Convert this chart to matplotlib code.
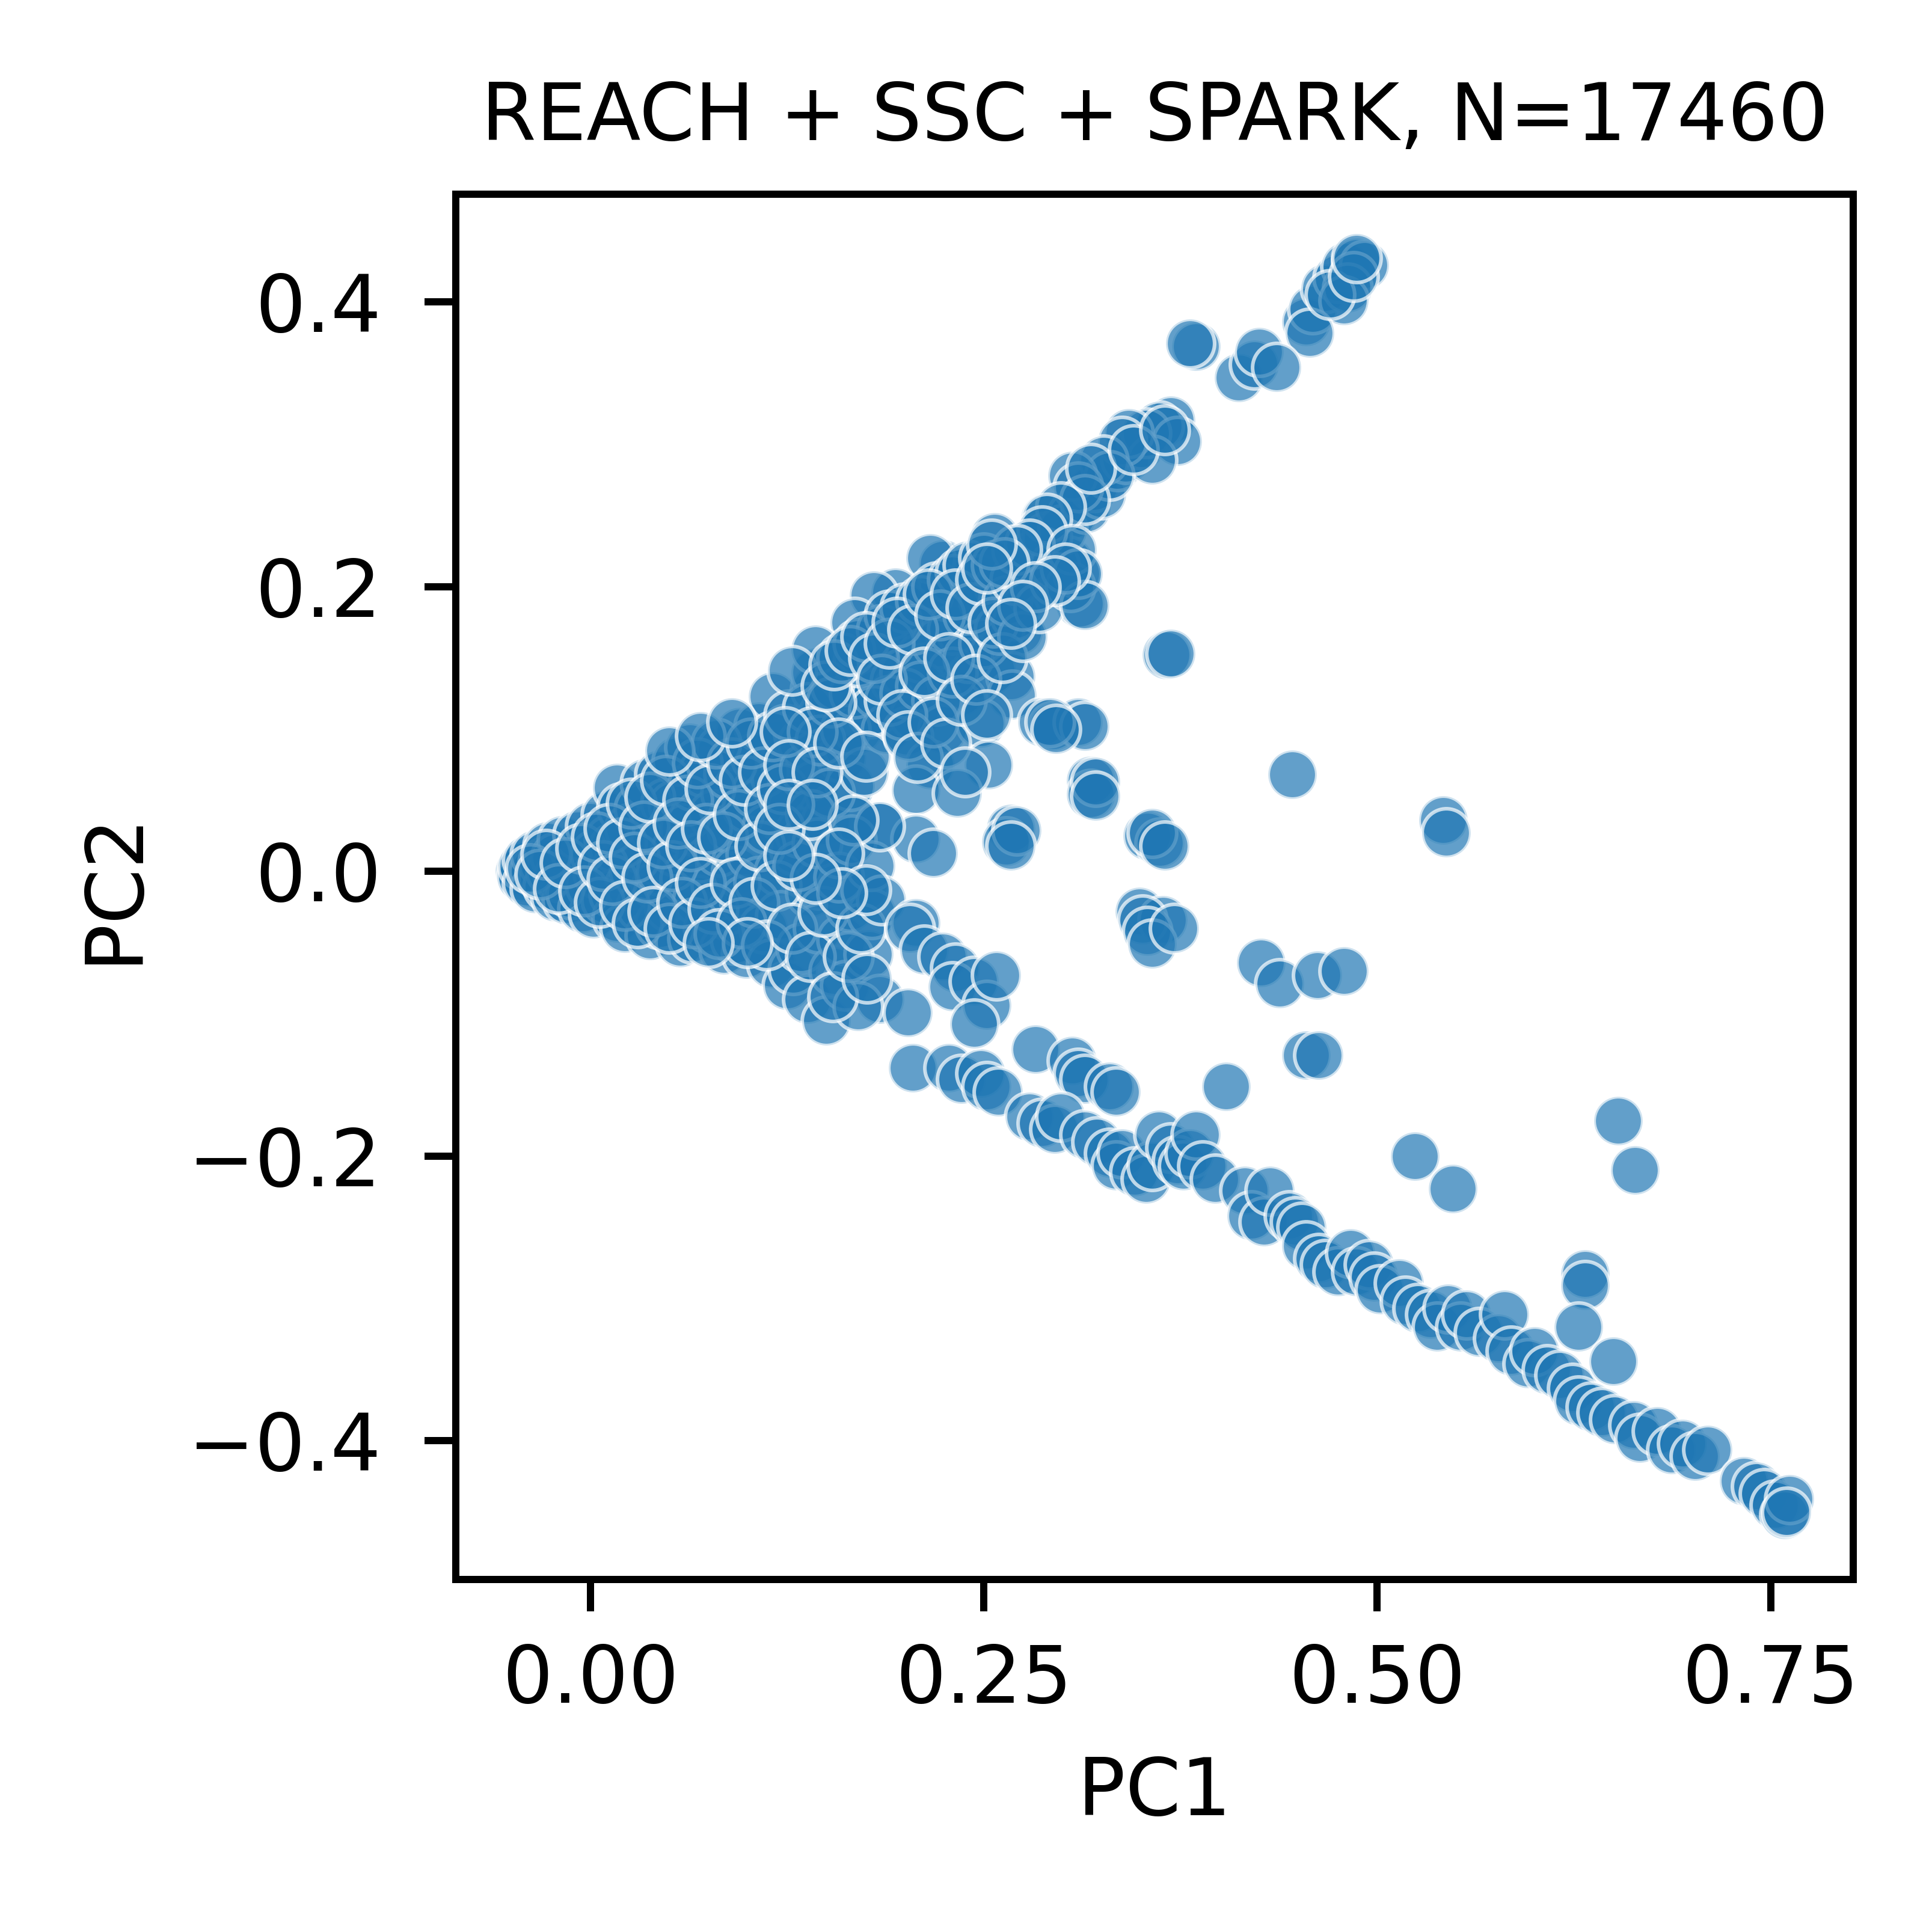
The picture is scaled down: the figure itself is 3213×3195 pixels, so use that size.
import numpy as np
import matplotlib
matplotlib.use("Agg")
import matplotlib.pyplot as plt

# --- points (PC1, PC2) ---
# pointe gauche / coeur du nuage
core_pc1 = [-0.045, -0.044, -0.043, -0.040, -0.040, -0.036, -0.035, -0.035, -0.030, -0.030,
            -0.027, -0.027, -0.025, -0.022, -0.022, -0.020, -0.018, -0.015, -0.012, -0.012,
            -0.010, -0.008, -0.005, 0.000, 0.000, 0.002, 0.003, 0.005, 0.010, 0.010,
            0.012, 0.015, 0.015, 0.017, 0.017, 0.018, 0.020, 0.022, 0.025, 0.025,
            0.028, 0.031, 0.032, 0.035, 0.035, 0.038, 0.040, 0.042, 0.044, 0.044,
            0.045, 0.048, 0.050, 0.053, 0.054, 0.055, 0.057, 0.060, 0.060, 0.063,
            0.065, 0.065, 0.068, 0.070, 0.072, 0.075, 0.078, 0.080, 0.082, 0.083,
            0.085, 0.086, 0.088, 0.088, 0.090, 0.092, 0.093, 0.095, 0.098, 0.099,
            0.100, 0.102, 0.105, 0.105, 0.107, 0.107, 0.110, 0.112, 0.115, 0.116,
            0.118, 0.120, 0.121, 0.124, 0.124, 0.125, 0.128, 0.129, 0.130, 0.133,
            0.134, 0.135, 0.138, 0.140, 0.142, 0.143, 0.143, 0.145, 0.145, 0.148,
            0.150, 0.150, 0.155, 0.155, 0.158, 0.160, 0.160, 0.162, 0.165, 0.167,
            0.170, 0.174, 0.177, 0.179, 0.179, 0.180, 0.184, 0.184, 0.170, 0.165,
            -0.038, -0.032, -0.028, -0.020, -0.016, -0.006, -0.004, 0.004, 0.006, 0.008,
            0.012, 0.014, 0.020, 0.022, 0.026, 0.028, 0.030, 0.034, 0.036, 0.038,
            0.040, 0.046, 0.048, 0.050, 0.052, 0.056, 0.058, 0.062, 0.064, 0.066,
            0.068, 0.070, 0.074, 0.076, 0.078, 0.080, 0.082, 0.084, 0.090, 0.092,
            0.094, 0.096, 0.098, 0.102, 0.104, 0.108, 0.110, 0.112, 0.114, 0.116,
            0.118, 0.122, 0.126, 0.128, 0.132, 0.136, 0.138, 0.140, 0.144, 0.146,
            0.148, 0.152, 0.154, 0.156, 0.158, 0.162, 0.164, 0.166, 0.168, 0.172,
            0.174, 0.176, 0.178, 0.182, 0.185, 0.188, 0.140, 0.120, 0.100, 0.075,
            0.050, 0.070, 0.090]
core_pc2 = [0.000, -0.004, 0.004, -0.008, 0.008, 0.000, -0.012, 0.012, -0.005, 0.006,
            -0.011, 0.018, 0.000, -0.018, 0.010, -0.004, 0.022, -0.020, 0.010, -0.016,
            0.000, 0.026, -0.026, 0.032, -0.010, -0.030, 0.012, -0.002, 0.040, -0.020,
            0.022, 0.017, -0.016, 0.059, -0.033, 0.005, 0.045, -0.040, 0.030, -0.010,
            0.000, 0.044, -0.025, 0.062, 0.015, -0.045, 0.030, -0.010, 0.068, -0.037,
            0.000, 0.048, -0.025, 0.046, 0.014, 0.078, -0.050, -0.005, 0.030, 0.087,
            -0.047, 0.060, -0.020, 0.010, 0.070, -0.040, 0.040, -0.010, 0.014, 0.085,
            -0.055, 0.055, 0.068, -0.031, 0.030, -0.048, 0.000, 0.098, -0.020, -0.058,
            0.045, 0.012, 0.055, 0.080, 0.102, -0.007, -0.040, 0.030, -0.065, 0.123,
            0.065, 0.000, -0.031, 0.078, 0.100, -0.080, 0.045, -0.069, 0.015, 0.027,
            -0.054, 0.090, -0.090, -0.015, 0.060, 0.128, 0.140, -0.009, -0.040, 0.110,
            -0.105, 0.035, 0.119, -0.070, 0.014, -0.048, 0.080, -0.080, -0.025, 0.038,
            0.100, -0.011, -0.058, -0.030, 0.111, 0.138, 0.032, -0.090, -0.095, 0.060,
            0.002, -0.002, 0.012, -0.012, 0.006, 0.016, -0.014, 0.024, -0.022, 0.004,
            0.030, -0.006, 0.020, -0.024, 0.048, 0.010, -0.036, 0.032, -0.004, 0.052,
            -0.028, 0.020, 0.064, -0.040, 0.004, 0.034, -0.022, 0.050, 0.018, -0.036,
            0.076, -0.008, 0.030, 0.058, -0.026, 0.090, -0.044, 0.024, 0.076, -0.008,
            0.040, -0.036, 0.064, 0.090, -0.022, 0.018, 0.070, -0.052, 0.044, 0.095,
            -0.010, 0.058, 0.110, -0.040, 0.004, 0.072, 0.115, -0.060, 0.020, 0.092,
            -0.028, 0.055, -0.088, 0.130, -0.004, 0.100, -0.060, 0.022, 0.125, -0.040,
            0.070, -0.075, 0.004, 0.125, -0.020, 0.100, 0.040, 0.030, -0.050, -0.050,
            0.085, 0.095, 0.105]

# bras superieur
upper_pc1 = [0.289, 0.306, 0.272, 0.257, 0.304, 0.311, 0.309, 0.281, 0.272, 0.248,
             0.224, 0.224, 0.216, 0.241, 0.223, 0.199, 0.194, 0.180, 0.168, 0.143,
             0.128, 0.170, 0.194, 0.213, 0.235, 0.255, 0.267, 0.268, 0.180, 0.206,
             0.153, 0.141, 0.124, 0.126, 0.144, 0.158, 0.175, 0.201, 0.224, 0.248,
             0.253, 0.216, 0.207, 0.233, 0.287, 0.294, 0.310, 0.318, 0.318, 0.366,
             0.267, 0.264, 0.354, 0.362, 0.207, 0.218, 0.184, 0.167, 0.158, 0.175,
             0.160, 0.143, 0.126, 0.126, 0.141, 0.349, 0.364, 0.207,
             0.150, 0.160, 0.170, 0.185, 0.190, 0.200, 0.210, 0.220, 0.230, 0.235,
             0.240, 0.250, 0.200, 0.210, 0.220, 0.230, 0.240, 0.250, 0.260, 0.190,
             0.200, 0.210, 0.220, 0.230, 0.240, 0.250, 0.260, 0.270, 0.280, 0.290,
             0.155, 0.165, 0.175, 0.180, 0.185, 0.190, 0.195, 0.198, 0.202, 0.205,
             0.208, 0.212, 0.215, 0.218, 0.222, 0.226, 0.228, 0.232, 0.236, 0.238,
             0.242, 0.245, 0.248, 0.252, 0.256, 0.258, 0.262, 0.265, 0.270, 0.275,
             0.278, 0.285, 0.290, 0.295, 0.300, 0.305, 0.315, 0.320, 0.325, 0.335,
             0.340, 0.350]
upper_pc2 = [0.248, 0.250, 0.224, 0.235, 0.218, 0.188, 0.209, 0.198, 0.169, 0.200,
             0.198, 0.216, 0.220, 0.164, 0.169, 0.158, 0.196, 0.194, 0.175, 0.156,
             0.141, 0.147, 0.134, 0.143, 0.126, 0.141, 0.137, 0.124, 0.113, 0.109,
             0.119, 0.098, 0.098, 0.075, 0.070, 0.090, 0.081, 0.098, 0.100, 0.104,
             0.075, 0.075, 0.057, 0.055, 0.105, 0.102, 0.105, 0.064, 0.054, 0.152,
             0.030, 0.021, 0.025, 0.020, 0.023, 0.013, 0.032, 0.036, 0.013, -0.013,
             -0.015, -0.005, 0.011, 0.047, 0.047, -0.028, -0.034, -0.036,
             0.130, 0.150, 0.160, 0.170, 0.180, 0.185, 0.190, 0.200, 0.205, 0.210,
             0.215, 0.220, 0.140, 0.150, 0.160, 0.170, 0.180, 0.190, 0.200, 0.120,
             0.125, 0.130, 0.120, 0.140, 0.150, 0.160, 0.170, 0.180, 0.210, 0.220,
             0.145, 0.155, 0.165, 0.150, 0.135, 0.160, 0.175, 0.110, 0.095, 0.170,
             0.080, 0.140, 0.195, 0.105, 0.180, 0.090, 0.150, 0.195, 0.120, 0.070,
             0.185, 0.135, 0.205, 0.110, 0.175, 0.215, 0.150, 0.190, 0.205, 0.165,
             0.220, 0.185, 0.235, 0.215, 0.240, 0.200, 0.255, 0.270, 0.265, 0.285,
             0.290, 0.300]

# haut du bras superieur
top_pc1 = [0.455, 0.459, 0.467, 0.475, 0.480, 0.487, 0.492, 0.481, 0.479, 0.457,
           0.470, 0.485, 0.385, 0.381, 0.412, 0.422, 0.425, 0.436, 0.369, 0.361,
           0.353, 0.373, 0.357, 0.342, 0.338, 0.326, 0.330, 0.306, 0.310, 0.314,
           0.299, 0.290, 0.287, 0.279, 0.271, 0.263, 0.255, 0.252, 0.306, 0.310,
           0.314, 0.302, 0.295, 0.283, 0.275, 0.267, 0.318, 0.345, 0.365, 0.487]
top_pc2 = [0.386, 0.395, 0.410, 0.417, 0.425, 0.428, 0.426, 0.410, 0.401, 0.378,
           0.405, 0.418, 0.369, 0.371, 0.347, 0.356, 0.365, 0.354, 0.317, 0.313,
           0.308, 0.302, 0.289, 0.308, 0.302, 0.289, 0.278, 0.278, 0.270, 0.261,
           0.256, 0.248, 0.239, 0.230, 0.226, 0.217, 0.230, 0.213, 0.226, 0.209,
           0.187, 0.213, 0.204, 0.200, 0.187, 0.174, 0.283, 0.296, 0.310, 0.431]

# bras inferieur
lower_pc1 = [0.203, 0.212, 0.224, 0.232, 0.230, 0.244, 0.252, 0.258, 0.202, 0.205,
             0.228, 0.236, 0.248, 0.252, 0.259, 0.244,
             0.283, 0.306, 0.310, 0.314, 0.330, 0.334, 0.279, 0.287, 0.295, 0.299,
             0.314, 0.322, 0.330, 0.334, 0.338, 0.346, 0.353, 0.357, 0.361, 0.369,
             0.373, 0.377, 0.381, 0.385, 0.389, 0.397, 0.404, 0.416, 0.420, 0.428,
             0.432, 0.444, 0.448, 0.452, 0.455, 0.463, 0.467, 0.475, 0.483, 0.487,
             0.495, 0.498, 0.502, 0.514, 0.518, 0.526, 0.534, 0.538, 0.545, 0.553,
             0.557, 0.565, 0.577, 0.581, 0.585, 0.596, 0.600, 0.608, 0.616, 0.624,
             0.628, 0.636, 0.643, 0.651, 0.663, 0.667, 0.678, 0.687, 0.694, 0.702,
             0.710, 0.733, 0.741, 0.746, 0.753, 0.759, 0.762, 0.760]
lower_pc2 = [-0.040, -0.055, -0.060, -0.068, -0.081, -0.077, -0.094, -0.073, -0.099, -0.138,
             -0.138, -0.146, -0.142, -0.151, -0.155, -0.107,
             -0.125, -0.133, -0.142, -0.146, -0.151, -0.155, -0.172, -0.177, -0.181, -0.172,
             -0.185, -0.190, -0.198, -0.207, -0.198, -0.211, -0.216, -0.207, -0.185, -0.194,
             -0.203, -0.207, -0.198, -0.185, -0.207, -0.216, -0.151, -0.224, -0.242, -0.246,
             -0.224, -0.242, -0.246, -0.250, -0.263, -0.272, -0.276, -0.281, -0.268, -0.281,
             -0.276, -0.285, -0.294, -0.289, -0.302, -0.307, -0.311, -0.320, -0.307, -0.320,
             -0.311, -0.324, -0.328, -0.311, -0.337, -0.346, -0.337, -0.350, -0.354, -0.363,
             -0.372, -0.376, -0.380, -0.385, -0.389, -0.398, -0.393, -0.406, -0.402, -0.411,
             -0.406, -0.428, -0.432, -0.437, -0.445, -0.452, -0.441, -0.450]

# points isoles entre les deux bras
outlier_pc1 = [0.446, 0.542, 0.544, 0.369, 0.314, 0.292, 0.296, 0.321, 0.321, 0.271,
               0.267, 0.357, 0.365, 0.351, 0.354, 0.357, 0.371, 0.426, 0.438, 0.462,
               0.479, 0.455, 0.463, 0.524, 0.548, 0.653, 0.664, 0.632, 0.632, 0.628,
               0.650]
outlier_pc2 = [0.068, 0.036, 0.027, 0.153, 0.102, 0.105, 0.100, 0.063, 0.053, 0.029,
               0.018, 0.027, 0.018, -0.034, -0.042, -0.051, -0.040, -0.064, -0.079, -0.073,
               -0.070, -0.129, -0.129, -0.200, -0.223, -0.175, -0.210, -0.283, -0.291, -0.320,
               -0.344]

title = "REACH + SSC + SPARK, N=17460"
x_ticks = [0.0, 0.25, 0.5, 0.75]
y_ticks = [0.4, 0.2, 0.0, -0.2, -0.4]

pc1 = np.concatenate([core_pc1, upper_pc1, top_pc1, lower_pc1, outlier_pc1])
pc2 = np.concatenate([core_pc2, upper_pc2, top_pc2, lower_pc2, outlier_pc2])

plt.rcParams['font.size'] = 8.8
plt.rcParams['font.family'] = ['DejaVu Sans']
plt.rcParams['ytick.major.pad'] = 4.8

dpi = 1080
fig = plt.figure(figsize=(3213 / dpi, 3195 / dpi), dpi=dpi)
ax = fig.add_axes([0.2360, 0.1778, 0.7232, 0.7211])

ax.scatter(pc1, pc2, s=29, color='#1f77b4', alpha=0.7,
           edgecolors='white', linewidths=0.4)

ax.set_xlim(-0.0854, 0.8025)
ax.set_ylim(-0.4974, 0.4757)
ax.set_xticks(x_ticks)
ax.set_yticks(y_ticks)
ax.set_xlabel('PC1')
ax.set_ylabel('PC2')
ax.set_title(title, fontsize=8.8)

fig.savefig('out.png', dpi=dpi)
